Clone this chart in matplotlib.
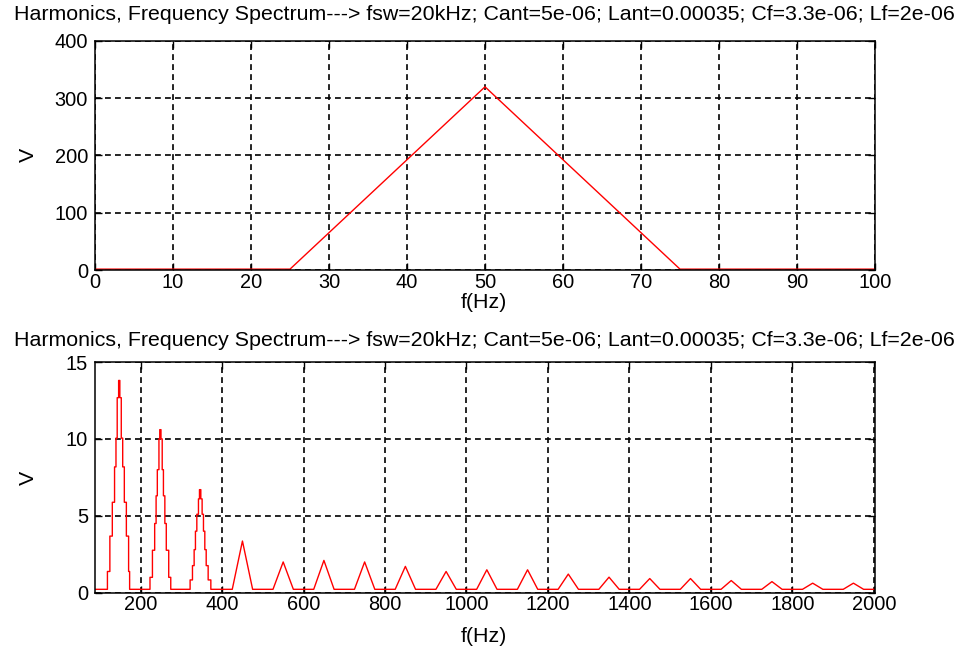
import matplotlib
matplotlib.use("Agg")
import matplotlib.pyplot as plt

plt.rcParams["font.family"] = ["Liberation Sans", "DejaVu Sans"]

TITLE = ("Harmonics, Frequency Spectrum---> fsw=20kHz; Cant=5e-06; "
         "Lant=0.00035; Cf=3.3e-06; Lf=2e-06")

# ---- upper panel: fundamental band ----
top_freq = [0, 25, 50, 75, 100]
top_volt = [1.5, 1.5, 320, 1.5, 1.5]
top_xticks = [0, 10, 20, 30, 40, 50, 60, 70, 80, 90, 100]
top_yticks = [0, 100, 200, 300, 400]

# ---- lower panel: harmonic spectrum ----
floor_level = 0.22
low_xlim = (88, 2003)

# first three harmonics are stair-shaped: step edges (Hz) and level after each edge (V)
h1_edges = [118.5, 124.5, 130.5, 136, 139.5, 142.5, 146, 149, 152.5, 156, 160, 165, 170.5, 173]
h1_levels = [1.38, 3.68, 5.88, 8.18, 10.05, 12.68, 13.8, 12.68, 10.05, 8.18, 5.88, 3.68, 1.38, 0.22]
h2_edges = [223, 229, 234.5, 238, 241, 245, 247, 250, 253, 256, 259.5, 263, 269, 274]
h2_levels = [1.0, 2.76, 4.5, 6.3, 8.0, 10.0, 10.6, 10.0, 8.0, 6.3, 4.5, 2.76, 1.0, 0.22]
h3_edges = [321.5, 327.3, 331.4, 334.6, 338, 342, 344.5, 347.8, 351, 354.3, 357.6, 361, 365.8, 372.4]
h3_levels = [0.83, 1.76, 2.8, 4.0, 5.1, 6.1, 6.7, 6.1, 5.1, 4.0, 2.8, 1.76, 0.83, 0.22]

# higher harmonics: triangular lobes
tri_centers = [450, 550, 650, 750, 850, 950, 1050, 1150, 1250, 1350, 1450,
               1550, 1650, 1750, 1850, 1950]
tri_heights = [3.36, 2.0, 2.1, 2.0, 1.71, 1.38, 1.49, 1.49, 1.21, 1.01, 0.92,
               0.92, 0.79, 0.72, 0.62, 0.62]
tri_half_width = 25

low_xticks = [200, 400, 600, 800, 1000, 1200, 1400, 1600, 1800, 2000]
low_yticks = [0, 5, 10, 15]

# assemble the lower trace
low_f = [low_xlim[0]]
low_v = [floor_level]
for edges, levels in [(h1_edges, h1_levels), (h2_edges, h2_levels), (h3_edges, h3_levels)]:
    prev = floor_level
    for e, lvl in zip(edges, levels):
        low_f += [e, e]
        low_v += [prev, lvl]
        prev = lvl
for c, h in zip(tri_centers, tri_heights):
    low_f += [c - tri_half_width, c, c + tri_half_width]
    low_v += [floor_level, h, floor_level]
low_f.append(low_xlim[1])
low_v.append(floor_level)

W, H = 960, 651
fig = plt.figure(figsize=(W / 100, H / 100), dpi=100)
FS = 15.4
TICK_FS = 14.4


def style(ax, xlim, ylim, xticks, yticks):
    ax.set_xlim(*xlim)
    ax.set_ylim(*ylim)
    ax.set_xticks(xticks)
    ax.set_yticks(yticks)
    ax.tick_params(direction="in", length=5, width=1, top=True, right=True,
                   labelsize=TICK_FS, colors="black")
    ax.tick_params(axis="x", pad=2)
    ax.tick_params(axis="y", pad=5)
    ax.grid(True, color="black", linestyle=(0, (3.5, 2.5)), linewidth=1.2)
    for s in ax.spines.values():
        s.set_color("black")
        s.set_linewidth(1.1)


def px_axes(l, t, r, b):
    return fig.add_axes([l / W, 1 - b / H, (r - l) / W, (b - t) / H])


ax1 = px_axes(95, 41, 875, 270)
ax1.plot(top_freq, top_volt, color="#ff0000", linewidth=1.0)
style(ax1, (0, 100), (0, 400), top_xticks, top_yticks)

ax2 = px_axes(95, 362, 875, 592.7)
ax2.plot(low_f, low_v, color="#ff0000", linewidth=1.0)
style(ax2, low_xlim, (0, 15), low_xticks, low_yticks)

fig.text(484 / W, 1 - 14 / H, TITLE, ha="center", va="center", fontsize=FS)
fig.text(484 / W, 1 - 341 / H, TITLE, ha="center", va="center", fontsize=FS)
fig.text(484 / W, 1 - 303 / H, "f(Hz)", ha="center", va="center", fontsize=FS)
fig.text(484 / W, 1 - 636 / H, "f(Hz)", ha="center", va="center", fontsize=FS)
fig.text(28 / W, 1 - 155 / H, "V", ha="center", va="center", fontsize=FS, rotation=90)
fig.text(28 / W, 1 - 478 / H, "V", ha="center", va="center", fontsize=FS, rotation=90)

fig.savefig("out.png", dpi=100, facecolor="white")
